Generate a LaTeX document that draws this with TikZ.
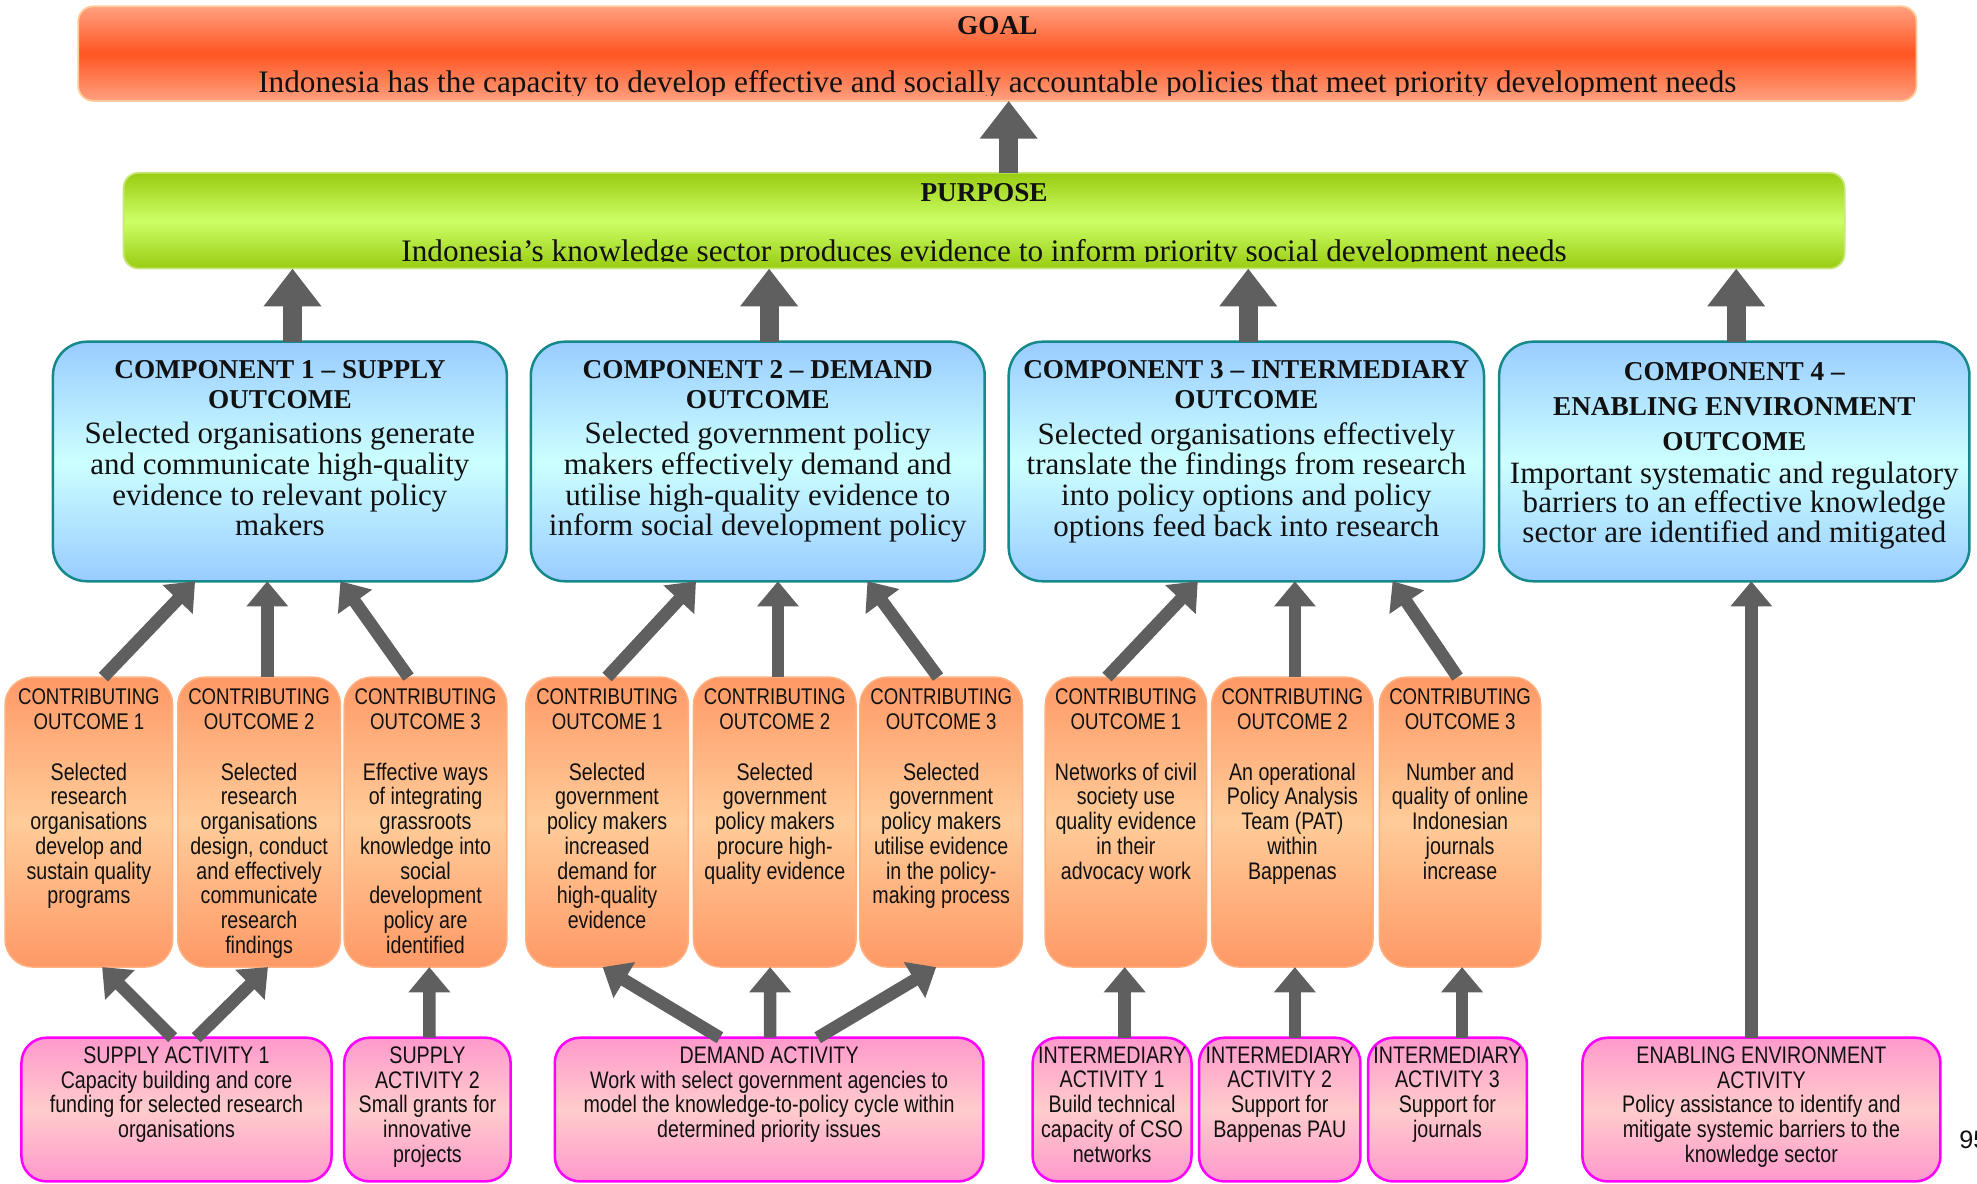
\documentclass[tikz,border=0pt]{standalone}
\usepackage{fontspec}
\setmainfont{Liberation Serif}
\newfontfamily\narrowsans[FakeStretch=0.82]{Liberation Sans}
\newfontfamily\plainsans{Liberation Sans}
\usetikzlibrary{arrows.meta,calc}

\definecolor{goalpale}{HTML}{FFA080}
\definecolor{goaldeep}{HTML}{FF5522}
\definecolor{goalrim}{HTML}{FFCC99}
\definecolor{purpdeep}{HTML}{99CC11}
\definecolor{purppale}{HTML}{CCFF66}
\definecolor{purprim}{HTML}{C8E67A}
\definecolor{compdeep}{HTML}{99CCFF}
\definecolor{comppale}{HTML}{CCFFFF}
\definecolor{comprim}{HTML}{168A8A}
\definecolor{contdeep}{HTML}{FF9966}
\definecolor{contpale}{HTML}{FFCC99}
\definecolor{contrim}{HTML}{FFB080}
\definecolor{actdeep}{HTML}{FF99CC}
\definecolor{actpale}{HTML}{FFCCCC}
\definecolor{actrim}{HTML}{FF00FF}
\definecolor{arrowgrey}{HTML}{5F5F5F}
\definecolor{ink}{HTML}{111111}

\tikzset{
  every node/.style={inner sep=0pt, outer sep=0pt, text=ink},
  goalbox/.style={draw=goalrim, line width=0.7pt, rounded corners=6pt,
    shading=axis, top color=goalpale, bottom color=goalpale, middle color=goaldeep},
  purpbox/.style={draw=purprim, line width=0.7pt, rounded corners=6pt,
    shading=axis, top color=purpdeep, bottom color=purpdeep, middle color=purppale},
  compbox/.style={draw=comprim, line width=1pt, rounded corners=13.5pt,
    minimum height=95pt,
    shading=axis, top color=compdeep, bottom color=compdeep, middle color=comppale},
  contbox/.style={draw=contrim, line width=0.6pt, rounded corners=11pt,
    minimum height=115pt,
    shading=axis, top color=contdeep, bottom color=contdeep, middle color=contpale},
  actbox/.style={draw=actrim, line width=1pt, rounded corners=10pt,
    minimum height=57pt,
    shading=axis, top color=actdeep, bottom color=actdeep, middle color=actpale},
  bigarrow/.style={draw=arrowgrey, line width=7.5pt,
    -{Triangle[length=15pt,width=22pt]}},
  smallarrow/.style={draw=arrowgrey, line width=5pt,
    -{Triangle[length=10pt,width=16pt]}},
  headtext/.style={font=\bfseries\fontsize{10.8}{12}\selectfont},
  headbody/.style={font=\fontsize{12.4}{12.4}\selectfont},
  comptitle/.style={anchor=north, align=center, font=\bfseries\fontsize{10.8}{12}\selectfont},
  compbody/.style={anchor=north, align=center, font=\fontsize{12.3}{12.15}\selectfont},
  conttitle/.style={anchor=north, align=center, font=\narrowsans\fontsize{9}{9.8}\selectfont},
  contbody/.style={anchor=north, align=center, font=\narrowsans\fontsize{9.5}{9.8}\selectfont},
  acttext/.style={anchor=north, align=center, font=\narrowsans\fontsize{9.5}{9.85}\selectfont},
}

\begin{document}
\begin{tikzpicture}[x=0.5pt, y=-0.5pt]
\useasboundingbox (0,0) rectangle (1568,939);

% ---------- boxes ----------
\node[goalbox, minimum width=729pt, minimum height=37.5pt] (goal) at (791,42.5) {};
\node[purpbox, minimum width=682.5pt, minimum height=38pt] (purpose) at (780.5,175) {};

\node[compbox, minimum width=180pt] (c1) at (222,366) {};
\node[compbox, minimum width=180pt] (c2) at (601,366) {};
\node[compbox, minimum width=188.5pt] (c3) at (988.5,366) {};
\node[compbox, minimum width=186.5pt] (c4) at (1375.5,366) {};

\node[contbox, minimum width=66.5pt] (s1) at (70.5,652) {};
\node[contbox, minimum width=64.5pt] (s2) at (205.5,652) {};
\node[contbox, minimum width=64.5pt] (s3) at (337.5,652) {};
\node[contbox, minimum width=64.5pt] (d1) at (481.5,652) {};
\node[contbox, minimum width=64.5pt] (d2) at (614.5,652) {};
\node[contbox, minimum width=64.5pt] (d3) at (746.5,652) {};
\node[contbox, minimum width=64pt] (i1) at (893,652) {};
\node[contbox, minimum width=64pt] (i2) at (1025,652) {};
\node[contbox, minimum width=64pt] (i3) at (1158,652) {};

\node[actbox, minimum width=123pt] (sa1) at (140,880) {};
\node[actbox, minimum width=66pt] (sa2) at (339,880) {};
\node[actbox, minimum width=170pt] (da) at (610,880) {};
\node[actbox, minimum width=63pt] (ia1) at (882,880) {};
\node[actbox, minimum width=64pt] (ia2) at (1015,880) {};
\node[actbox, minimum width=63pt] (ia3) at (1148,880) {};
\node[actbox, minimum width=142pt] (eea) at (1397,880) {};

% ---------- connectors ----------
\draw[bigarrow] ($(purpose.north)+(19.5,0)$) -- ($(goal.south)+(9,0)$);
\draw[bigarrow] ($(c1.north)+(10,0)$) -- ($(purpose.south)+(-548.5,0)$);
\draw[bigarrow] ($(c2.north)+(9,0)$) -- ($(purpose.south)+(-170.5,0)$);
\draw[bigarrow] ($(c3.north)+(1.5,0)$) -- ($(purpose.south)+(209.5,0)$);
\draw[bigarrow] ($(c4.north)+(1.5,0)$) -- ($(purpose.south)+(596.5,0)$);

\draw[smallarrow] ($(s1.north)+(11.5,0)$) -- ($(c1.south)+(-67.3,0)$);
\draw[smallarrow] ($(s2.north)+(6.5,0)$) -- ($(c1.south)+(-10,0)$);
\draw[smallarrow] ($(s3.north)+(-13.5,0)$) -- ($(c1.south)+(48,0)$);
\draw[smallarrow] ($(d1.north)+(0,0)$) -- ($(c2.south)+(-49,0)$);
\draw[smallarrow] ($(d2.north)+(2.5,0)$) -- ($(c2.south)+(16,0)$);
\draw[smallarrow] ($(d3.north)+(-2.5,0)$) -- ($(c2.south)+(87,0)$);
\draw[smallarrow] ($(i1.north)+(-15,0)$) -- ($(c3.south)+(-38.5,0)$);
\draw[smallarrow] ($(i2.north)+(2,0)$) -- ($(c3.south)+(38.5,0)$);
\draw[smallarrow] ($(i3.north)+(-2,0)$) -- ($(c3.south)+(116,0)$);

\draw[smallarrow] ($(sa1.north)+(-3,0)$) -- ($(s1.south)+(10.5,0)$);
\draw[smallarrow] ($(sa1.north)+(15.6,0)$) -- ($(s2.south)+(7,0)$);
\draw[smallarrow] ($(sa2.north)+(1.6,0)$) -- ($(s3.south)+(3,0)$);
\draw[smallarrow] ($(da.north)+(-39,0)$) -- ($(d1.south)+(-3.5,0)$);
\draw[smallarrow] ($(da.north)+(0.8,0)$) -- ($(d2.south)+(-3.7,0)$);
\draw[smallarrow] ($(da.north)+(38.5,0)$) -- ($(d3.south)+(-4,0)$);
\draw[smallarrow] ($(ia1.north)+(10,0)$) -- ($(i1.south)+(-1,0)$);
\draw[smallarrow] ($(ia2.north)+(12,0)$) -- ($(i2.south)+(2,0)$);
\draw[smallarrow] ($(ia3.north)+(11.6,0)$) -- ($(i3.south)+(1.6,0)$);
\draw[smallarrow] ($(eea.north)+(-8,0)$) -- ($(c4.south)+(13.5,0)$);

% ---------- goal and purpose texts ----------
\node[headtext, anchor=north] (goalt) at ($(goal.north)+(0,7.85)$) {GOAL};
\begin{scope}
  \clip (goal.north west) rectangle ($(goal.south east)+(0,-4.5)$);
  \node[headbody, anchor=base] (goalb) at (791,73.5)
    {Indonesia has the capacity to develop effective and socially accountable policies that meet priority development needs};
\end{scope}
\node[headtext, anchor=north] (purpt) at ($(purpose.north)+(0,8.85)$) {PURPOSE};
\begin{scope}
  \clip (purpose.north west) rectangle ($(purpose.south east)+(0,-6)$);
  \node[headbody, anchor=base] (purpb) at (780.5,207)
    {Indonesia’s knowledge sector produces evidence to inform priority social development needs};
\end{scope}

% ---------- component texts ----------
\node[comptitle] (c1t) at ($(c1.north)+(0,14.85)$) {COMPONENT 1 – SUPPLY\\OUTCOME};
\node[compbody] (c1b) at ($(c1.north)+(0,64)$)
  {Selected organisations generate\\and communicate high-quality\\evidence to relevant policy\\makers};
\node[comptitle] (c2t) at ($(c2.north)+(0,14.85)$) {COMPONENT 2 – DEMAND\\OUTCOME};
\node[compbody] (c2b) at ($(c2.north)+(0,64)$)
  {Selected government policy\\makers effectively demand and\\utilise high-quality evidence to\\inform social development policy};
\node[comptitle] (c3t) at ($(c3.north)+(0,14.85)$) {COMPONENT 3 – INTERMEDIARY\\OUTCOME};
\node[compbody] (c3b) at ($(c3.north)+(0,64)$)
  {Selected organisations effectively\\translate the findings from research\\into policy options and policy\\options feed back into research};
\node[comptitle, font=\bfseries\fontsize{10.8}{13.75}\selectfont] (c4t) at ($(c4.north)+(0,16.85)$)
  {COMPONENT 4 –\\ENABLING ENVIRONMENT\\OUTCOME};
\node[compbody, font=\fontsize{12.3}{11.75}\selectfont] (c4b) at ($(c4.north)+(0,95)$)
  {Important systematic and regulatory\\barriers to an effective knowledge\\sector are identified and mitigated};

% ---------- contributing outcome texts ----------
\node[conttitle] (s1t) at ($(s1.north)+(0,9.5)$) {CONTRIBUTING\\OUTCOME 1};
\node[contbody] (s1b) at ($(s1.north)+(0,68)$)
  {Selected\\research\\organisations\\develop and\\sustain quality\\programs};
\node[conttitle] (s2t) at ($(s2.north)+(0,9.5)$) {CONTRIBUTING\\OUTCOME 2};
\node[contbody] (s2b) at ($(s2.north)+(0,68)$)
  {Selected\\research\\organisations\\design, conduct\\and effectively\\communicate\\research\\findings};
\node[conttitle] (s3t) at ($(s3.north)+(0,9.5)$) {CONTRIBUTING\\OUTCOME 3};
\node[contbody] (s3b) at ($(s3.north)+(0,68)$)
  {Effective ways\\of integrating\\grassroots\\knowledge into\\social\\development\\policy are\\identified};
\node[conttitle] (d1t) at ($(d1.north)+(0,9.5)$) {CONTRIBUTING\\OUTCOME 1};
\node[contbody] (d1b) at ($(d1.north)+(0,68)$)
  {Selected\\government\\policy makers\\increased\\demand for\\high-quality\\evidence};
\node[conttitle] (d2t) at ($(d2.north)+(0,9.5)$) {CONTRIBUTING\\OUTCOME 2};
\node[contbody] (d2b) at ($(d2.north)+(0,68)$)
  {Selected\\government\\policy makers\\procure high-\\quality evidence};
\node[conttitle] (d3t) at ($(d3.north)+(0,9.5)$) {CONTRIBUTING\\OUTCOME 3};
\node[contbody] (d3b) at ($(d3.north)+(0,68)$)
  {Selected\\government\\policy makers\\utilise evidence\\in the policy-\\making process};
\node[conttitle] (i1t) at ($(i1.north)+(0,9.5)$) {CONTRIBUTING\\OUTCOME 1};
\node[contbody] (i1b) at ($(i1.north)+(0,68)$)
  {Networks of civil\\society use\\quality evidence\\in their\\advocacy work};
\node[conttitle] (i2t) at ($(i2.north)+(0,9.5)$) {CONTRIBUTING\\OUTCOME 2};
\node[contbody] (i2b) at ($(i2.north)+(0,68)$)
  {An operational\\Policy Analysis\\Team (PAT)\\within\\Bappenas};
\node[conttitle] (i3t) at ($(i3.north)+(0,9.5)$) {CONTRIBUTING\\OUTCOME 3};
\node[contbody] (i3b) at ($(i3.north)+(0,68)$)
  {Number and\\quality of online\\Indonesian\\journals\\increase};

% ---------- activity texts ----------
\node[acttext] (sa1t) at ($(sa1.north)+(0,7)$)
  {SUPPLY ACTIVITY 1\\Capacity building and core\\funding for selected research\\organisations};
\node[acttext] (sa2t) at ($(sa2.north)+(0,7)$)
  {SUPPLY\\ACTIVITY 2\\Small grants for\\innovative\\projects};
\node[acttext] (dat) at ($(da.north)+(0,7)$)
  {DEMAND ACTIVITY\\Work with select government agencies to\\model the knowledge-to-policy cycle within\\determined priority issues};
\node[acttext] (ia1t) at ($(ia1.north)+(0,7)$)
  {INTERMEDIARY\\ACTIVITY 1\\Build technical\\capacity of CSO\\networks};
\node[acttext] (ia2t) at ($(ia2.north)+(0,7)$)
  {INTERMEDIARY\\ACTIVITY 2\\Support for\\Bappenas PAU};
\node[acttext] (ia3t) at ($(ia3.north)+(0,7)$)
  {INTERMEDIARY\\ACTIVITY 3\\Support for\\journals};
\node[acttext] (eeat) at ($(eea.north)+(0,7)$)
  {ENABLING ENVIRONMENT\\ACTIVITY\\Policy assistance to identify and\\mitigate systemic barriers to the\\knowledge sector};

% ---------- page number ----------
\node[anchor=base west, font=\plainsans\fontsize{10}{12}\selectfont] (pageno) at (1554,910.5) {95};
\end{tikzpicture}
\end{document}
